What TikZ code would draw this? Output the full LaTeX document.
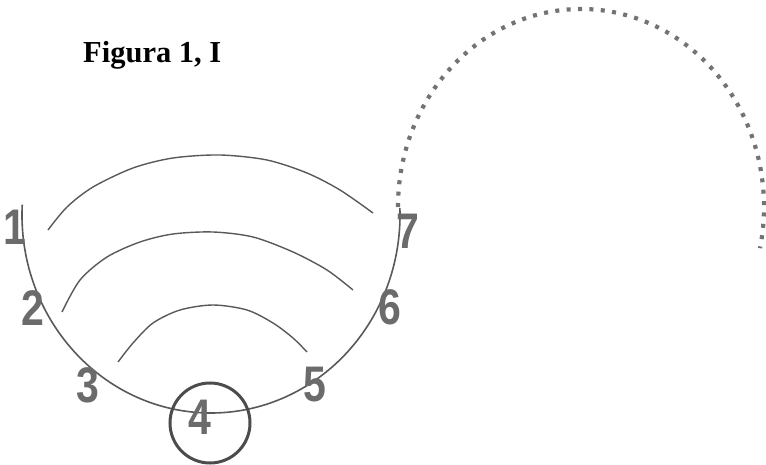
\documentclass[tikz,border=0pt]{standalone}
\usepackage{fontspec}
\setmainfont{Liberation Serif}
\newfontfamily\numfont{Liberation Sans}

\begin{document}
\begin{tikzpicture}[
  x=1pt, y=1pt,
  num/.style={font=\numfont\bfseries\fontsize{50}{50}\selectfont, text=black!58,
              inner sep=0pt, xscale=0.82},
  trace/.style={draw=black!65, line width=1.6pt},
  pointille/.style={draw=black!55, line width=4.2pt, dash pattern=on 4pt off 7.4pt}
]
  \useasboundingbox (0,0) rectangle (766,464);

  \node[font=\bfseries\fontsize{30.5}{30.5}\selectfont, anchor=base west, inner sep=0pt]
    (titre) at (83,401) {Figura 1, I};

  % Arcs
  \draw[trace] (211,249) ++(177:189 and 198)
    arc[start angle=177, end angle=362, x radius=189, y radius=198];
  \draw[pointille] (581,257) ++(180:183 and 198)
    arc[start angle=180, end angle=-12, x radius=183, y radius=198];

  \draw[trace, line width=1.4pt] plot[smooth] coordinates
    {(48,234) (67,257) (93,277) (133,296) (173,306) (220,309) (267,304) (307,291) (340,274) (373,251)};
  \draw[trace, line width=1.4pt] plot[smooth] coordinates
    {(62,152) (80,184) (107,207) (140,222) (173,230) (213,232) (253,227) (293,212) (327,194) (353,174)};
  \draw[trace, line width=1.4pt] plot[smooth] coordinates
    {(118,102) (133,121) (153,141) (180,154) (213,159) (247,154) (273,141) (293,126) (307,112)};

  % Chiffres
  \foreach \n/\x/\y in {1/15/237, 2/33/156, 3/88/79, 4/200/47, 5/315/79, 6/390/157, 7/408/233}
    \node[num] (n\n) at (\x,\y) {\n};

  \draw[draw=black!70, line width=3pt] (210,41) circle[radius=40];
\end{tikzpicture}
\end{document}
